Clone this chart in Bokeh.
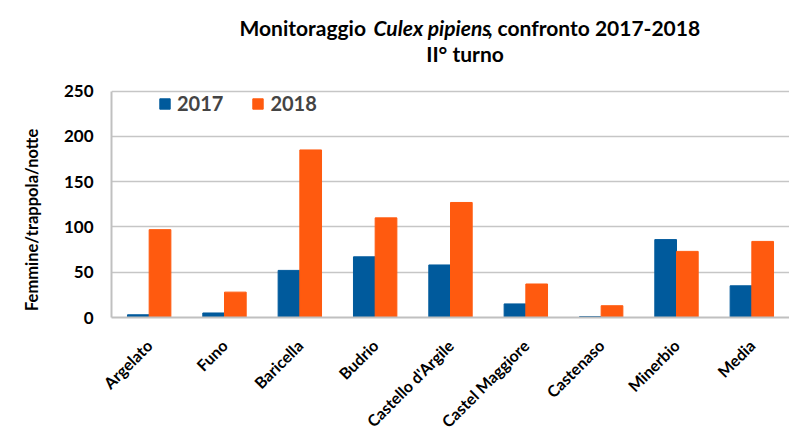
import math
from bokeh.plotting import figure
from bokeh.models import ColumnDataSource, Label, Legend, LegendItem, Title
from bokeh.transform import dodge
from bokeh.embed import file_html
from bokeh.resources import INLINE

categories = ["Argelato", "Funo", "Baricella", "Budrio", "Castello d'Argile",
              "Castel Maggiore", "Castenaso", "Minerbio", "Media"]
values_2017 = [3, 5, 52, 67, 58, 15, 1, 86, 35]
values_2018 = [97, 28, 185, 110, 127, 37, 13, 73, 84]
y_ticks = [0, 50, 100, 150, 200, 250]

FONT = "Lato"
BLUE = "#005A9C"
ORANGE = "#FF5A0F"

src = ColumnDataSource(dict(cat=categories, y17=values_2017, y18=values_2018))

# The frame extends above the value axis so that the title fits inside it.
p = figure(x_range=categories, y_range=(0, 350), width=789, height=440,
           output_backend="svg", toolbar_location=None,
           min_border_left=111, min_border_right=0, min_border_top=0,
           min_border_bottom=119)
p.outline_line_color = None

r17 = p.vbar(x=dodge("cat", -0.144, range=p.x_range), top="y17", width=0.288,
             source=src, fill_color=BLUE, line_color=BLUE)
r18 = p.vbar(x=dodge("cat", 0.144, range=p.x_range), top="y18", width=0.288,
             source=src, fill_color=ORANGE, line_color=ORANGE)

p.xgrid.grid_line_color = None
p.ygrid.grid_line_color = "#c6c6c6"
p.ygrid.grid_line_width = 1.5
p.yaxis.ticker = y_ticks
p.yaxis.bounds = (0, 250)

for ax in (p.xaxis[0], p.yaxis[0]):
    ax.axis_line_color = "#c0c0c0"
    ax.axis_line_width = 2
    ax.major_tick_line_color = None
    ax.minor_tick_line_color = None
    ax.major_label_text_font = FONT
    ax.major_label_text_font_style = "bold"
    ax.major_label_text_color = "black"

p.yaxis.major_label_text_font_size = "17px"
p.yaxis.major_label_standoff = 12

p.add_layout(Title(text="Femmine/trappola/notte", align="left", offset=6.5,
                   standoff=38, text_font=FONT, text_font_size="16.5px",
                   text_font_style="bold", text_color="black"), "left")

p.xaxis.major_label_text_font_size = "16px"
p.xaxis.major_label_orientation = math.pi / 4
p.xaxis.major_label_standoff = 19

legend = Legend(items=[LegendItem(label="2017", renderers=[r17]),
                       LegendItem(label="2018", renderers=[r18])],
                orientation="horizontal", location=(47, 202),
                padding=0, margin=0, spacing=28, label_standoff=6,
                glyph_width=13, glyph_height=13, label_height=24,
                border_line_color=None, background_fill_alpha=0,
                label_text_font=FONT, label_text_font_style="bold",
                label_text_font_size="20px")
p.add_layout(legend)

title_parts = [
    ("Monitoraggio", "bold", 128),
    ("Culex pipiens", "bold italic", 262),
    (", confronto 2017-2018", "bold", 376),
]
for txt, style, x in title_parts:
    p.add_layout(Label(x=x, y=290, x_units="screen", y_units="screen", text=txt,
                       text_font=FONT, text_font_style=style, text_font_size="21px",
                       text_align="left", text_baseline="alphabetic", text_color="black"))
p.add_layout(Label(x=353.5, y=264, x_units="screen", y_units="screen", text="II° turno",
                   text_font=FONT, text_font_style="bold", text_font_size="21px",
                   text_align="center", text_baseline="alphabetic", text_color="black"))

open("out.html", "w").write(file_html(p, INLINE))
